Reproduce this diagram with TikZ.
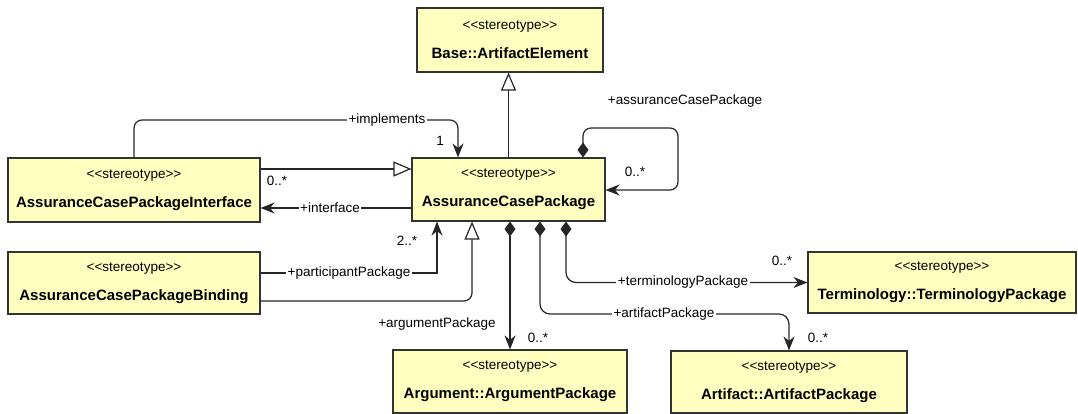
\documentclass[tikz,border=0pt]{standalone}
\usepackage{fontspec}
\newfontfamily\umlfont{Liberation Sans}
\usetikzlibrary{arrows.meta}
\definecolor{umlyellow}{RGB}{255,255,192}
\newcommand{\stereo}{{\mdseries\fontsize{13.5}{29}\selectfont <<stereotype>>}}

\begin{document}
\begin{tikzpicture}[x=1pt, y=-1pt, line width=1.2pt, draw=black!85,
    cls/.style={draw=black!80, fill=umlyellow, line width=1.1pt, align=center, inner sep=0pt,
        font=\umlfont\fontsize{15}{29}\selectfont\bfseries},
    lab/.style={font=\umlfont\fontsize{13.5}{16}\selectfont, fill=white, inner sep=1.5pt},
    mult/.style={font=\umlfont\fontsize{13.5}{16}\selectfont, inner sep=0pt},
    gen/.style={-{Triangle[open, length=18pt, width=15pt, fill=white]}},
    nav/.style={-{Stealth[length=14pt, width=11pt, inset=4.5pt]}},
    comp/.style={{Diamond[length=15pt, width=11pt]}-{Stealth[length=14pt, width=11pt, inset=4.5pt]}}]
    \useasboundingbox (0,0) rectangle (1078,414);

    \node[cls, minimum width=186pt, minimum height=64pt] (base) at (510,40) {\stereo\\Base::ArtifactElement};
    \node[cls, minimum width=193pt, minimum height=63pt] (acp) at (508.5,189.5) {\stereo\\AssuranceCasePackage};
    \node[cls, minimum width=252pt, minimum height=64pt] (iface) at (134,190) {\stereo\\AssuranceCasePackageInterface};
    \node[cls, minimum width=252pt, minimum height=62pt] (bind) at (134,283) {\stereo\\AssuranceCasePackageBinding};
    \node[cls, minimum width=268pt, minimum height=61pt] (term) at (942,282.5) {\stereo\\Terminology::TerminologyPackage};
    \node[cls, minimum width=234pt, minimum height=63pt] (arg) at (510,381.5) {\stereo\\Argument::ArgumentPackage};
    \node[cls, minimum width=236pt, minimum height=62pt] (art) at (789,382) {\stereo\\Artifact::ArtifactPackage};

    % generalisations
    \draw[gen] (acp.north) -- (base.south -| acp.north);
    \draw[gen] (iface.east |- 0,169) -- (acp.west |- 0,169);
    \draw[gen, rounded corners=8pt] (bind.east |- 0,301) -| (acp.south -| 472,0);

    % associations
    \draw[nav, rounded corners=8pt] (iface.north) |- (458,120) -- (acp.north -| 458,0);
    \draw[nav] (acp.west |- 0,208) -- (iface.east |- 0,208);
    \draw[nav] (bind.east |- 0,273) -| (acp.south -| 437,0);
    \draw[comp] (arg.north |- acp.south) -- (arg.north);
    \draw[comp, rounded corners=10pt] (acp.south -| 540,0) |- (art.north |- 0,314) -- (art.north);
    \draw[comp, rounded corners=10pt] (acp.south -| 566,0) |- (term.west);
    \draw[comp, rounded corners=8pt] (acp.north -| 583,0) |- (678,128) |- (acp.east |- 0,190);

    \node[lab] (l-impl) at (387,120) {+implements};
    \node[mult] (m-impl) at (440,141) {1};
    \node[lab] (l-iface) at (330,208) {+interface};
    \node[mult] (m-iface) at (277,181) {0..*};
    \node[lab] (l-part) at (349,273) {+participantPackage};
    \node[mult] (m-part) at (407,241) {2..*};
    \node[lab] (l-arg) at (437,324) {+argumentPackage};
    \node[mult] (m-arg) at (538,338) {0..*};
    \node[lab] (l-art) at (664,314) {+artifactPackage};
    \node[mult] (m-art) at (818,338) {0..*};
    \node[lab] (l-term) at (683,282) {+terminologyPackage};
    \node[mult] (m-term) at (782,261) {0..*};
    \node[lab] (l-self) at (685,101) {+assuranceCasePackage};
    \node[mult] (m-self) at (635,172) {0..*};
\end{tikzpicture}
\end{document}
